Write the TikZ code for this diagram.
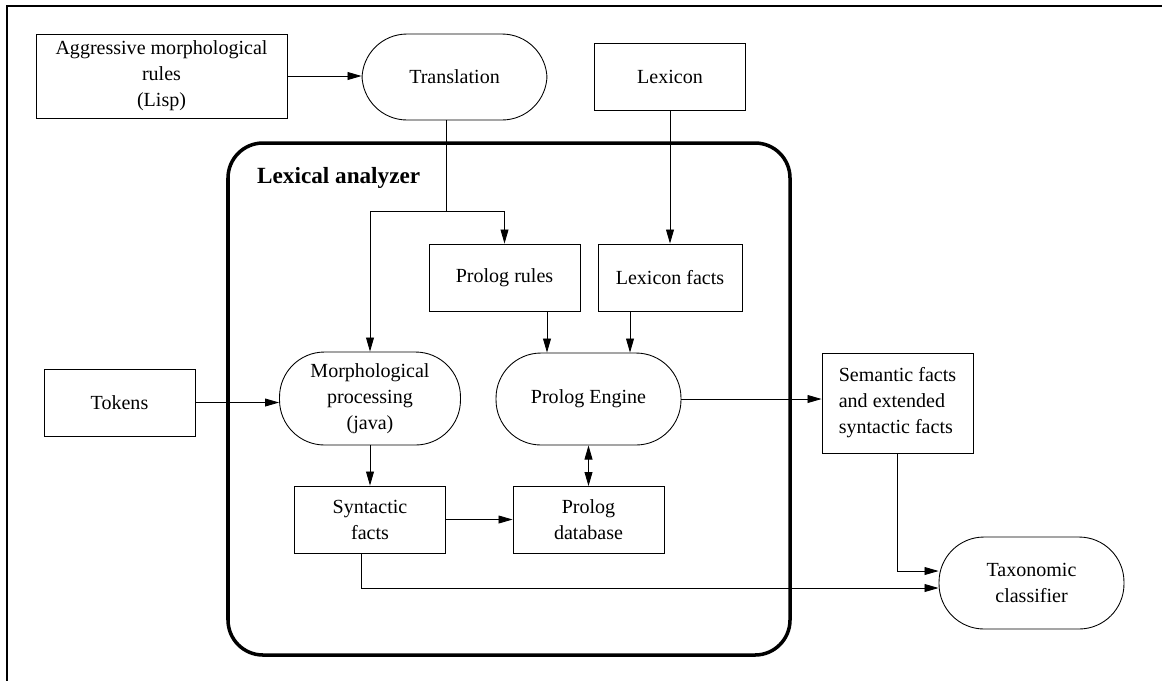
\documentclass[tikz,border=0pt]{standalone}
\usepackage{fontspec}
\setmainfont{Liberation Serif}
\usetikzlibrary{arrows.meta}

\begin{document}
\begin{tikzpicture}[x=0.02cm, y=-0.02cm,
        font=\fontsize{11.4}{14.8}\selectfont,
        box/.style={draw, line width=0.5pt, align=center, inner sep=0pt},
        pill/.style={draw, line width=0.5pt, align=center, inner sep=0pt, rounded corners=0.9cm},
        >={Triangle[length=8pt,width=4.5pt]}]
        \useasboundingbox (0,0) rectangle (1162,681);
        \draw[line width=1.1pt] (1162,6) -- (7,6) -- (7,681);

        % outside the analyzer
        \node[box, minimum width=5.02cm, minimum height=1.68cm] (aggr) at (161.5,76) {Aggressive morphological\\rules\\(Lisp)};
        \node[pill, minimum width=3.7cm, minimum height=1.72cm] (trans) at (454.5,77) {Translation};
        \node[box, minimum width=3.02cm, minimum height=1.34cm] (lex) at (670,76.5) {Lexicon};
        \node[box, minimum width=3.02cm, minimum height=1.34cm] (tokens) at (119.5,402.5) {Tokens};
        \node[box, minimum width=3.02cm, minimum height=2cm, align=left] (sem) at (897.5,403) {Semantic facts\\and extended\\syntactic facts};
        \node[pill, minimum width=3.7cm, minimum height=1.84cm] (tax) at (1031.5,583) {Taxonomic\\classifier};

        % lexical analyzer
        \draw[line width=2pt, rounded corners=0.7cm] (228,143) rectangle (790,655);
        \node[anchor=west, font=\fontsize{13.2}{16}\selectfont\bfseries] (title) at (251,178) {Lexical analyzer};

        \node[box, minimum width=3.02cm, minimum height=1.34cm] (prules) at (504.5,277.5) {Prolog rules};
        \node[box, minimum width=2.88cm, minimum height=1.34cm] (lfacts) at (670,277.5) {Lexicon facts};
        \node[pill, minimum width=3.62cm, minimum height=1.86cm] (morph) at (370,398.5) {Morphological\\processing\\(java)};
        \node[pill, minimum width=3.7cm, minimum height=1.84cm] (engine) at (588.5,399) {Prolog Engine};
        \node[box, minimum width=3.02cm, minimum height=1.34cm] (synt) at (370,519.5) {Syntactic\\facts};
        \node[box, minimum width=3.02cm, minimum height=1.34cm] (pdb) at (588.5,520) {Prolog\\database};

        % connectors
        \coordinate (split) at (446,211);
        \draw[line width=0.5pt] (trans.south -| split) -- (split);
        \draw[line width=0.5pt, ->] (split) -| (prules.north);
        \draw[line width=0.5pt, ->] (split) -| (morph.north);
        \draw[line width=0.5pt, ->] (aggr.east) -- (aggr.east -| trans.west);
        \draw[line width=0.5pt, ->] (lex.south) -- (lfacts.north);
        \draw[line width=0.5pt, ->] ([xshift=0.85cm]prules.south) -- ([xshift=0.85cm]prules.south |- engine.north);
        \draw[line width=0.5pt, ->] ([xshift=-0.8cm]lfacts.south) -- ([xshift=-0.8cm]lfacts.south |- engine.north);
        \draw[line width=0.5pt, ->] (tokens.east) -- (tokens.east -| morph.west);
        \draw[line width=0.5pt, ->] (morph.south) -- (synt.north);
        \draw[line width=0.5pt, <->] (engine.south) -- (pdb.north);
        \draw[line width=0.5pt, ->] (synt.east) -- (synt.east -| pdb.west);
        \draw[line width=0.5pt, ->] (engine.east) -- (engine.east -| sem.west);
        \draw[line width=0.5pt, ->] (sem.south) |- ([yshift=0.24cm]tax.west);
        \draw[line width=0.5pt, ->] ([xshift=-0.17cm]synt.south) |- ([yshift=-0.1cm]tax.west);
    \end{tikzpicture}
\end{document}
